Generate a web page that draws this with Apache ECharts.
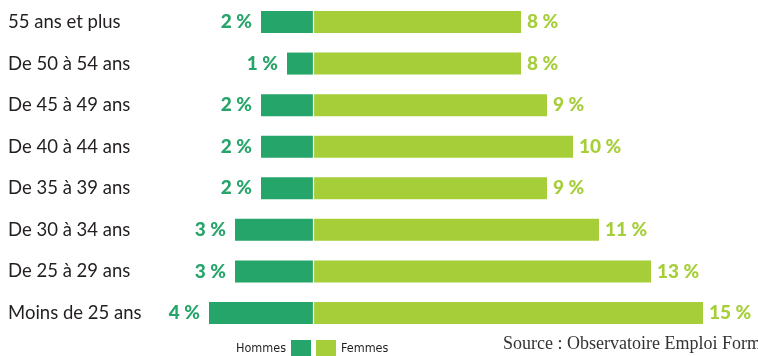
<!DOCTYPE html>
<html><head><meta charset="utf-8">
<script src="https://cdn.jsdelivr.net/npm/echarts@6/dist/echarts.min.js"></script>
<style>html,body{margin:0;padding:0;background:#fff}#c{width:758px;height:356px}</style>
</head><body><div id="c"></div>
<script>
const categories = ['55 ans et plus','De 50 à 54 ans','De 45 à 49 ans','De 40 à 44 ans','De 35 à 39 ans','De 30 à 34 ans','De 25 à 29 ans','Moins de 25 ans'];
const hommes = [2,1,2,2,2,3,3,4];
const femmes = [8,8,9,10,9,11,13,15];
const seriesNames = ['Hommes','Femmes'];
const sourceText = 'Source : Observatoire Emploi Formation';

const cDark = '#25a56a', cLight = '#a6ce39';
const chart = echarts.init(document.getElementById('c'));
chart.setOption({
  animation:false,
  grid:{left:105,right:3,top:1.2,bottom:22.2,containLabel:false},
  xAxis:{type:'value',min:-8,max:17,show:false},
  yAxis:{type:'category',data:categories,inverse:true,
    axisLine:{show:false},axisTick:{show:false},
    axisLabel:{align:'left',margin:97,fontFamily:'Lato',fontSize:18.5,color:'#231f20'}},
  legend:[
    {data:[seriesNames[0]],right:447,top:340,align:'right',icon:'rect',itemWidth:20,itemHeight:17,itemStyle:{borderWidth:0},
     textStyle:{fontFamily:'DejaVu Sans Condensed',fontSize:12.5,color:'#231f20'},padding:0,selectedMode:false},
    {data:[seriesNames[1]],left:316,top:340,align:'left',icon:'rect',itemWidth:20,itemHeight:17,itemStyle:{borderWidth:0},
     textStyle:{fontFamily:'DejaVu Sans Condensed',fontSize:12.5,color:'#231f20'},padding:0,selectedMode:false}
  ],
  graphic:[{type:'text',left:503,top:335,style:{text:sourceText,fontFamily:'Liberation Serif',fontSize:18,fill:'#333'}}],
  series:[
    {name:seriesNames[0],type:'bar',stack:'a',barWidth:22,data:hommes.map(v=>-v),
     itemStyle:{color:cDark},
     label:{show:true,position:'left',distance:9,formatter:p=>Math.abs(p.value)+' %',
       fontFamily:'Lato',fontWeight:900,fontSize:19,color:'#27a46a'}},
    {name:seriesNames[1],type:'bar',stack:'a',barWidth:22,data:femmes,
     itemStyle:{color:cLight},
     label:{show:true,position:'right',distance:6,formatter:p=>p.value+' %',
       fontFamily:'Lato',fontWeight:900,fontSize:19,color:'#a6ce39'},
     markLine:{silent:true,symbol:'none',label:{show:false},data:[{xAxis:0}],
       lineStyle:{color:'#fff',width:1.2,type:'solid'}}}
  ]
});
</script></body></html>
